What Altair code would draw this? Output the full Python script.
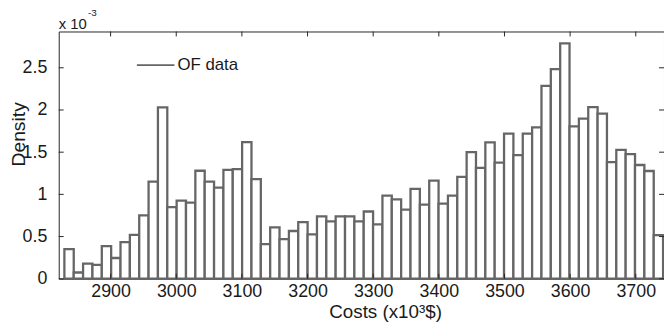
import altair as alt
import pandas as pd

# Histogram densities (units of 1e-3), 64 equal-width bins
density = [0.35, 0.074, 0.18, 0.164, 0.387, 0.246, 0.434, 0.52, 0.75, 1.15,
           2.03, 0.848, 0.926, 0.902, 1.28, 1.15, 1.08, 1.29, 1.30, 1.62,
           1.18, 0.41, 0.61, 0.469, 0.566, 0.672, 0.527, 0.738, 0.68, 0.738,
           0.738, 0.68, 0.797, 0.645, 0.984, 0.941, 0.82, 1.066, 0.879, 1.164,
           0.89, 0.984, 1.207, 1.5, 1.313, 1.617, 1.375, 1.72, 1.465, 1.72,
           1.793, 2.285, 2.484, 2.789, 1.805, 1.898, 2.035, 1.957, 1.383, 1.527,
           1.477, 1.348, 1.277, 0.516]
bin_start = 2829.6
bin_width = 14.25
x_ticks = [2900, 3000, 3100, 3200, 3300, 3400, 3500, 3600, 3700]
y_ticks = [0, 0.5, 1, 1.5, 2, 2.5]
series_name = "OF data"
x_title = "Costs (x10³$)"
y_title = "Density"

lo = [bin_start + i * bin_width for i in range(len(density))]
df = pd.DataFrame({"lo": lo, "hi": [v + bin_width for v in lo],
                   "density": density, "series": series_name})

W, H = 612, 250
FONT = "Liberation Sans"
AX = "#262626"
TXT = "#1a1a1a"
BAR = "#666666"
xs = alt.Scale(domain=[2821, 3743], nice=False, zero=False)
ys = alt.Scale(domain=[0, 2.93], nice=False, zero=False)

bars = alt.Chart(df).mark_rect(fill="white", strokeWidth=2.3).encode(
    x=alt.X("lo:Q", scale=xs, title=x_title, axis=alt.Axis(
        values=x_ticks, format="d", ticks=False, domain=False, grid=False,
        labelFont=FONT, labelFontSize=18, labelColor=TXT, labelPadding=4,
        titleFont=FONT, titleFontSize=19, titleFontWeight="normal",
        titleColor=TXT, titleX=330, titleY=39.5, titleAlign="center",
        titleBaseline="alphabetic")),
    x2="hi",
    y=alt.Y("density:Q", scale=ys, title=y_title, axis=alt.Axis(
        values=y_ticks, format="~g", ticks=False, domain=False, grid=False,
        labelFont=FONT, labelFontSize=18, labelColor=TXT, labelPadding=12,
        titleFont=FONT, titleFontSize=19.5, titleFontWeight="normal",
        titleColor=TXT, titleAngle=270, titleX=-40.5, titleY=103.5,
        titleAlign="center", titleBaseline="middle")),
    y2=alt.datum(0),
    stroke=alt.Stroke("series:N", scale=alt.Scale(domain=[series_name], range=[BAR]),
                      legend=alt.Legend(title=None, orient="none", legendX=78, legendY=14,
                                        symbolType="stroke", symbolSize=1444,
                                        symbolStrokeWidth=2, labelFont=FONT,
                                        labelFontSize=17, labelColor=TXT,
                                        labelOffset=2, padding=0)),
)

xt = pd.DataFrame({"lo": x_ticks})
yt = pd.DataFrame({"density": y_ticks})
top_ticks = alt.Chart(xt).mark_rule(color=AX, strokeWidth=1).encode(
    x=alt.X("lo:Q", scale=xs, title=x_title), y=alt.value(0), y2=alt.value(5))
bot_ticks = alt.Chart(xt).mark_rule(color=AX, strokeWidth=1).encode(
    x=alt.X("lo:Q", scale=xs, title=x_title), y=alt.value(H), y2=alt.value(H - 5))
left_ticks = alt.Chart(yt).mark_rule(color=AX, strokeWidth=1).encode(
    y=alt.Y("density:Q", scale=ys, title=y_title), x=alt.value(0), x2=alt.value(5))
right_ticks = alt.Chart(yt).mark_rule(color=AX, strokeWidth=1).encode(
    y=alt.Y("density:Q", scale=ys, title=y_title), x=alt.value(W), x2=alt.value(W - 5))

exp_base = alt.Chart(pd.DataFrame({"t": ["x 10"]})).mark_text(
    font=FONT, fontSize=15, align="left", baseline="alphabetic", color=TXT
).encode(text="t:N", x=alt.value(0), y=alt.value(-3))
exp_sup = alt.Chart(pd.DataFrame({"t": ["-3"]})).mark_text(
    font=FONT, fontSize=10, align="left", baseline="alphabetic", color=TXT
).encode(text="t:N", x=alt.value(29.5), y=alt.value(-15.5))

chart = alt.layer(bars, top_ticks, bot_ticks, left_ticks, right_ticks, exp_base, exp_sup).properties(
    width=W, height=H,
    padding={"left": 51.3, "top": 22, "right": 0, "bottom": 45},
    autosize="none",
    background="white",
).configure_view(stroke=AX, strokeWidth=1)

chart.save("out.html", embed_options={"renderer": "svg", "actions": False})
